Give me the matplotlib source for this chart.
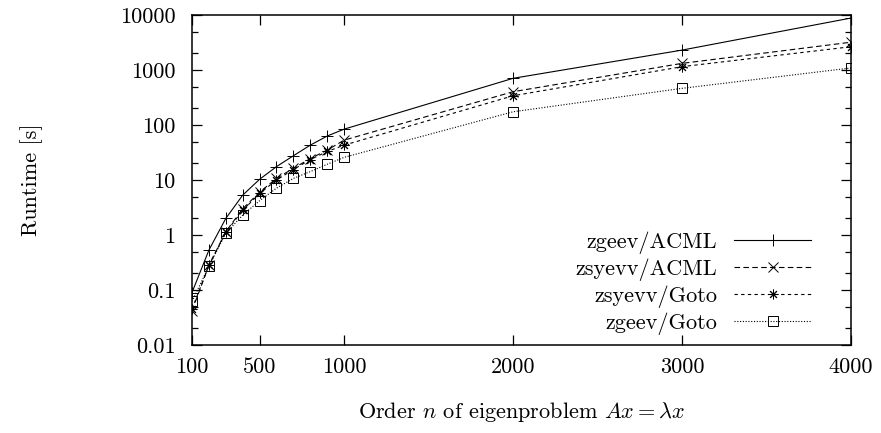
import matplotlib
matplotlib.use('Agg')
import matplotlib.pyplot as plt
from matplotlib.ticker import LogLocator, NullFormatter

plt.rcParams['font.family'] = 'cmr10'
plt.rcParams['mathtext.fontset'] = 'cm'
plt.rcParams['axes.unicode_minus'] = False
plt.rcParams['axes.formatter.use_mathtext'] = True

# matrix order n
order = [100, 200, 300, 400, 500, 600, 700, 800, 900, 1000, 2000, 3000, 4000]

# runtimes in seconds
zgeev_acml = [0.09, 0.53, 2.0, 5.3, 10.3, 17.5, 27.6, 43, 63, 84, 706, 2300, 8800]
zsyevv_acml = [0.042, 0.28, 1.15, 3.0, 6.0, 10.7, 16.3, 24.5, 35, 53, 403, 1320, 3200]
zsyevv_goto = [0.045, 0.28, 1.12, 2.8, 5.7, 10.0, 15.5, 23.5, 33, 43, 340, 1150, 2650]
zgeev_goto = [0.062, 0.27, 1.08, 2.3, 4.2, 7.1, 10.7, 14.2, 19.3, 25.8, 174, 464, 1090]

xticks = [100, 500, 1000, 2000, 3000, 4000]
yticks = [0.01, 0.1, 1, 10, 100, 1000, 10000]
ytick_labels = ['0.01', '0.1', '1', '10', '100', '1000', '10000']

fig = plt.figure(figsize=(8.81, 4.33), dpi=100)
ax = fig.add_axes([192 / 881, 1 - 345 / 433, 659 / 881, 330 / 433])

lw = 0.8
ax.plot(order, zgeev_acml, color='black', lw=lw, ls='-', marker='+', ms=8, mew=0.7,
        label='zgeev/ACML')
ax.plot(order, zsyevv_acml, color='black', lw=lw, ls=(0, (5, 3)), marker='x', ms=6.5, mew=0.7,
        label='zsyevv/ACML')
ax.plot(order, zsyevv_goto, color='black', lw=lw, ls=(0, (3, 3)), marker=(8, 2, 0), ms=7, mew=0.7,
        label='zsyevv/Goto')
ax.plot(order, zgeev_goto, color='black', lw=lw, ls=(0, (1, 1.5)), marker='s', ms=6.5, mew=0.7,
        mfc='none', label='zgeev/Goto')

ax.set_yscale('log')
ax.set_xlim(100, 4000)
ax.set_ylim(0.01, 10000)
ax.set_xticks(xticks)
ax.set_xticklabels([str(v) for v in xticks])
ax.set_yticks(yticks)
ax.set_yticklabels(ytick_labels)
ax.yaxis.set_minor_locator(LogLocator(base=10, subs=(2.0, 5.0)))
ax.yaxis.set_minor_formatter(NullFormatter())

ax.tick_params(which='both', direction='in', top=True, right=True, labelsize=16)
ax.tick_params(which='major', length=7, width=0.9)
ax.tick_params(which='minor', length=4, width=0.9)
ax.tick_params(axis='x', pad=9)
ax.tick_params(axis='y', pad=12)
for s in ax.spines.values():
    s.set_linewidth(1.1)

ax.set_xlabel(r'Order $n$ of eigenproblem $Ax = \lambda x$', fontsize=16)
ax.xaxis.set_label_coords(0.5, -0.168)
ax.xaxis.label.set_va('top')
ax.set_ylabel('Runtime [s]', fontsize=16)
ax.yaxis.set_label_coords(-0.226, 0.5)

# markerfirst=False right-aligns the rows, so the labels end flush at the samples
ax.legend(loc='lower right', bbox_to_anchor=(0.94, 0.03), frameon=False,
          markerfirst=False, fontsize=16, handlelength=3.5, handletextpad=0.75,
          labelspacing=0.21, borderaxespad=0, borderpad=0)

fig.savefig('out.png', dpi=100)
